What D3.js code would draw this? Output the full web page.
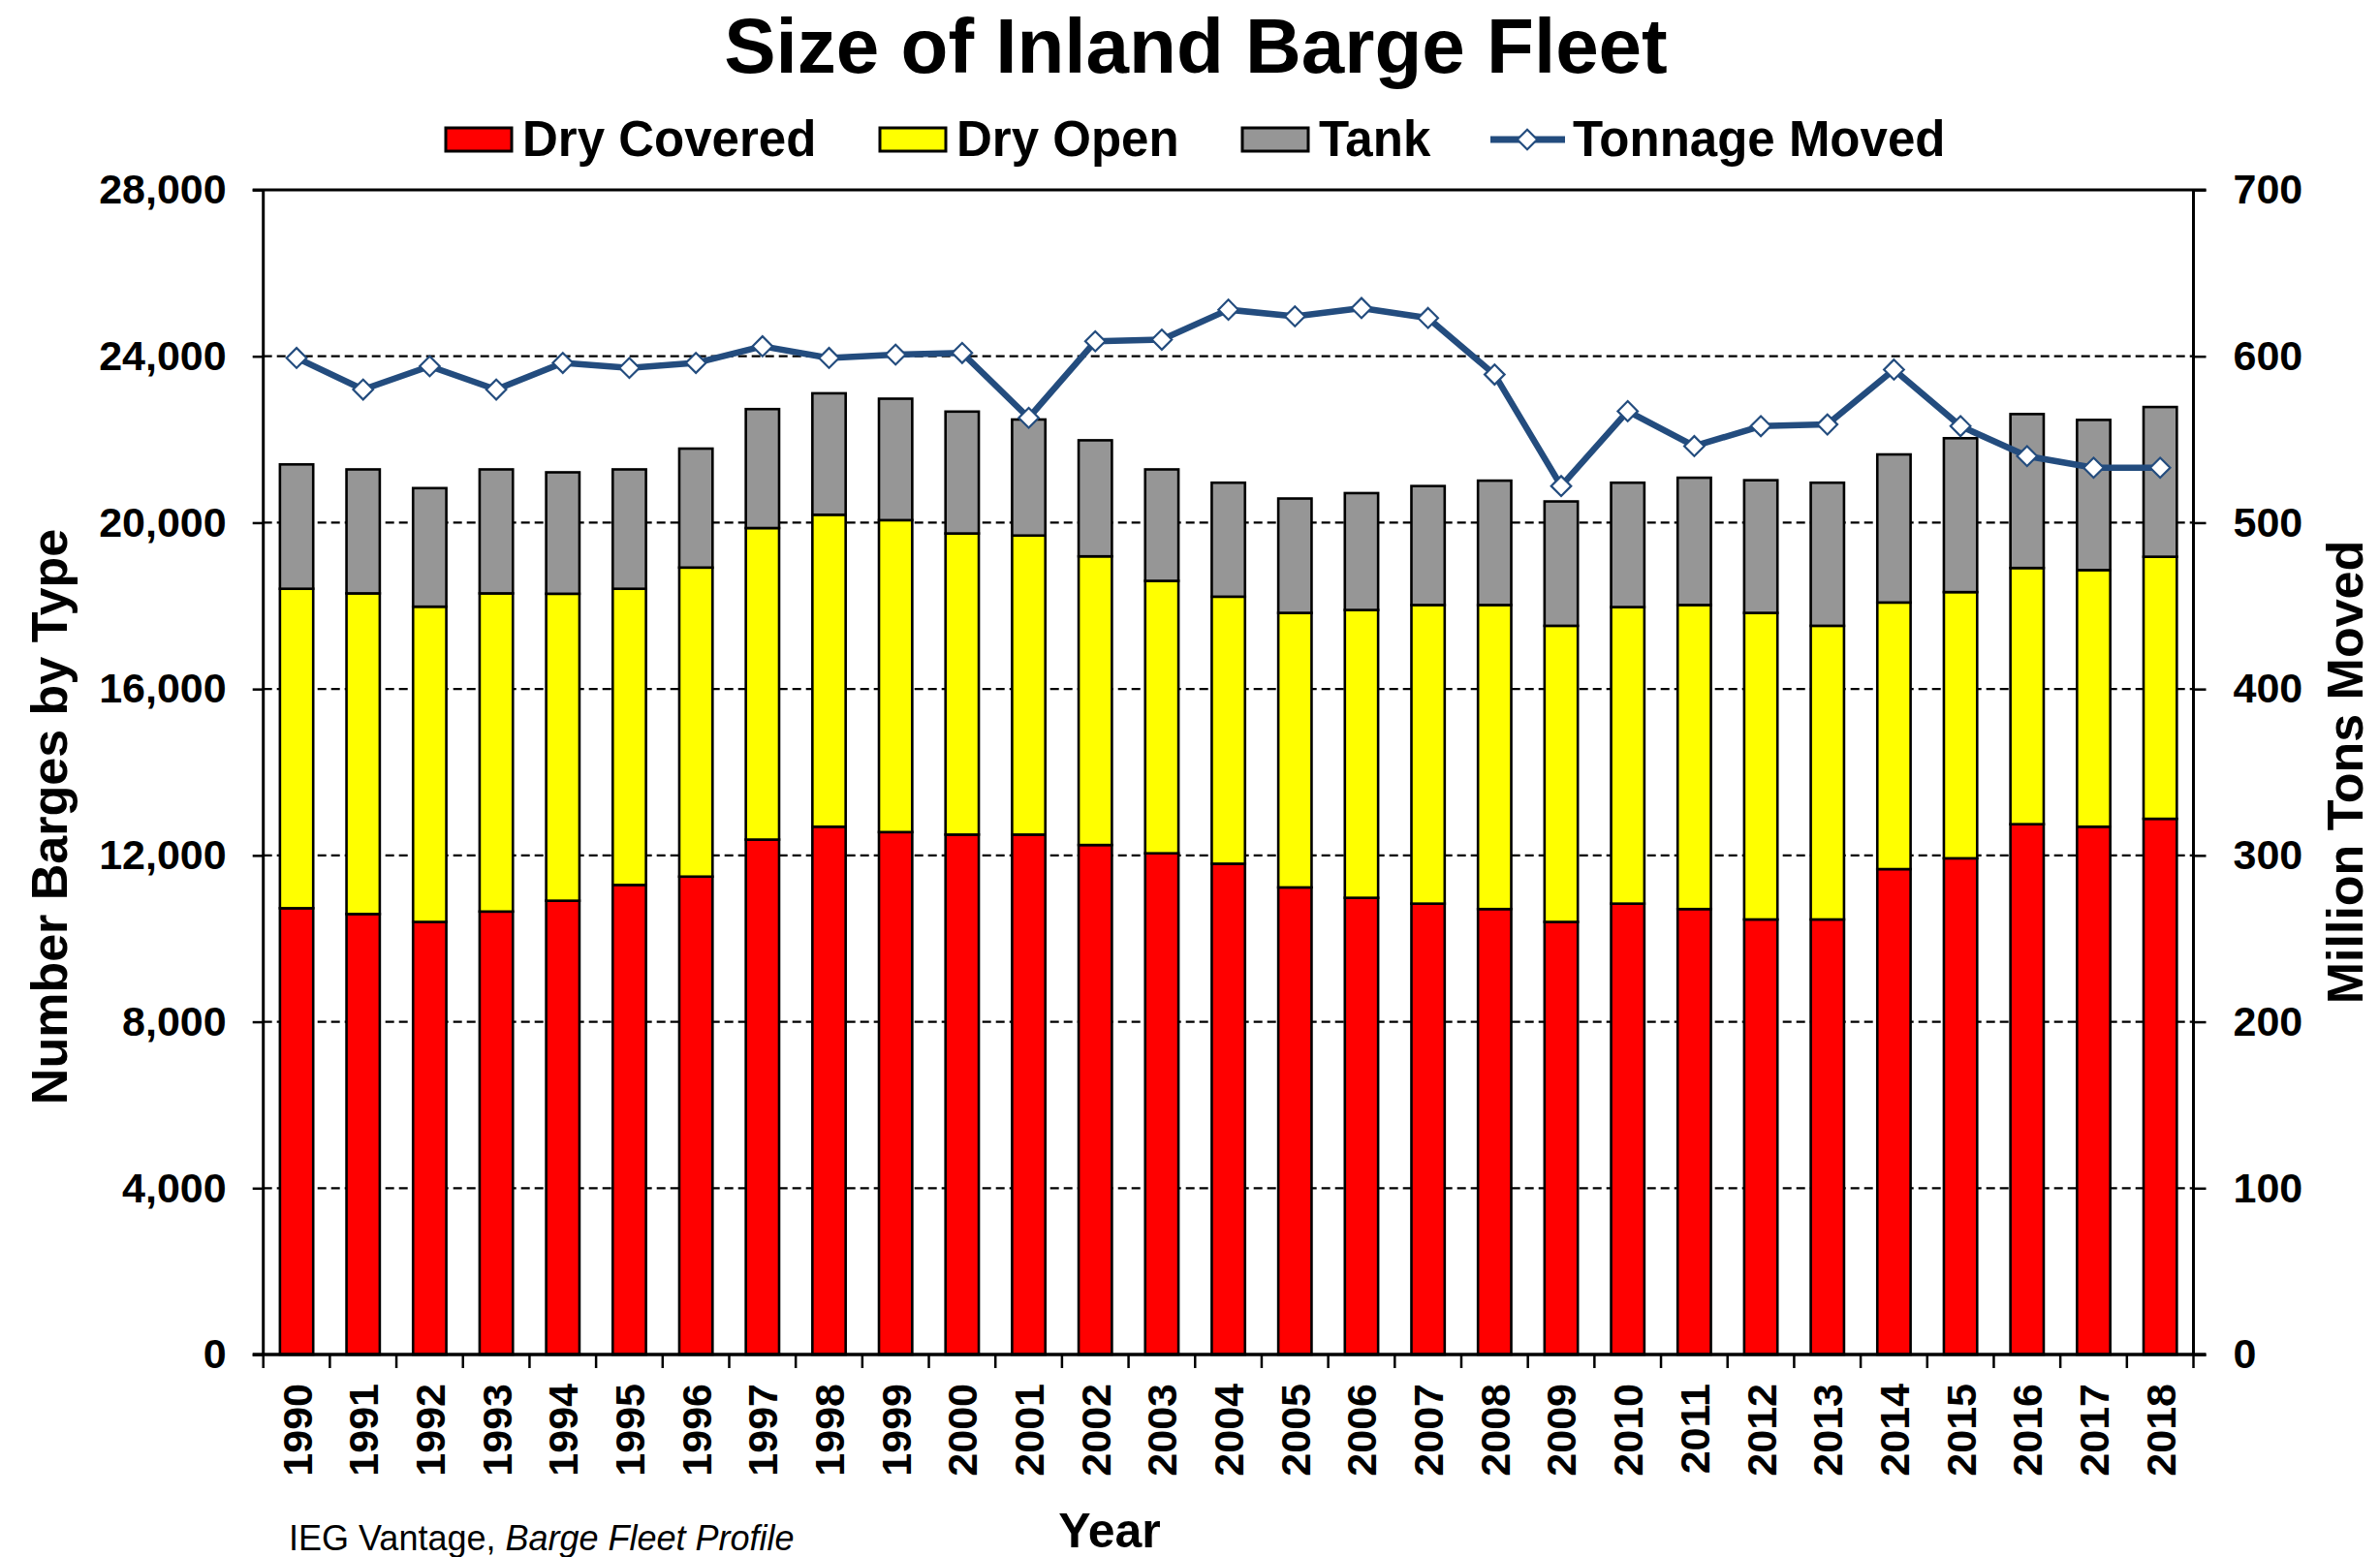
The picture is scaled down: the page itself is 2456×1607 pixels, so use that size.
<!DOCTYPE html>
<html lang="en">
<head>
    <meta charset="UTF-8">
    <title>Size of Inland Barge Fleet</title>
    <script src="https://d3js.org/d3.v7.min.js"></script>
    <style>
        body { margin: 0; background: #fff; }
        svg text { font-family: "Liberation Sans", Arial, sans-serif; fill: #000; }
    </style>
</head>
<body>
<script>
    // values
    var years = d3.range(1990, 2019).map(String);
    var dryCovered = [10730, 10590, 10400, 10650, 10910, 11290, 11490, 12380, 12690, 12560, 12500, 12500, 12250, 12050, 11800,
                      11230, 10980, 10840, 10710, 10400, 10840, 10710, 10460, 10460, 11670, 11930, 12750, 12690, 12880];
    var dryOpen = [7680, 7710, 7580, 7650, 7380, 7120, 7430, 7490, 7500, 7500, 7240, 7190, 6940, 6550, 6420,
                   6600, 6920, 7180, 7310, 7120, 7130, 7310, 7370, 7060, 6410, 6400, 6160, 6170, 6300];
    var tank = [2990, 2980, 2850, 2980, 2920, 2870, 2860, 2860, 2920, 2920, 2930, 2790, 2790, 2680, 2740,
                2750, 2810, 2860, 2990, 2990, 2990, 3060, 3190, 3440, 3560, 3700, 3700, 3610, 3600];
    var tonnage = [599, 580, 594, 580, 596, 593, 596, 606, 599, 601, 602, 563, 609, 610, 628,
                   624, 629, 623, 589, 522, 567, 546, 558, 559, 592, 558, 540, 533, 533];
    var leftTicks = [0, 4000, 8000, 12000, 16000, 20000, 24000, 28000];
    var rightTicks = [0, 100, 200, 300, 400, 500, 600, 700];

    var seriesNames = ["Dry Covered", "Dry Open", "Tank"];
    var seriesColors = ["#ff0000", "#ffff00", "#969696"];
    var lineColor = "#234c7e";

    var width = 2456, height = 1607;
    var margin = {top: 196, right: 192.5, bottom: 209, left: 271.7};
    var plotW = width - margin.left - margin.right;
    var plotH = height - margin.top - margin.bottom;

    var svg = d3.select("body").append("svg")
        .attr("width", width)
        .attr("height", height);

    var g = svg.append("g")
        .attr("transform", "translate(" + margin.left + "," + margin.top + ")");

    var x = d3.scaleBand()
        .domain(years)
        .range([0, plotW])
        .paddingInner(0.5)
        .paddingOuter(0.25);

    var y = d3.scaleLinear().domain([0, 28000]).range([plotH, 0]);
    var y2 = d3.scaleLinear().domain([0, 700]).range([plotH, 0]);

    // table for the stack
    var table = years.map(function(yr, i) {
        return {year: yr, "Dry Covered": dryCovered[i], "Dry Open": dryOpen[i], "Tank": tank[i]};
    });
    var stacked = d3.stack().keys(seriesNames)(table);

    // dashed gridlines
    g.append("g").selectAll("line")
        .data(leftTicks.filter(function(d) { return d > 0 && d < 28000; }))
        .enter().append("line")
        .attr("x1", 0).attr("x2", plotW)
        .attr("y1", function(d) { return y(d); })
        .attr("y2", function(d) { return y(d); })
        .style("stroke", "#000")
        .style("stroke-width", 2.2)
        .style("stroke-dasharray", "9,5");

    // bars
    g.append("g").selectAll("g")
        .data(stacked)
        .enter().append("g")
        .style("fill", function(d, i) { return seriesColors[i]; })
        .selectAll("rect")
        .data(function(d) { return d; })
        .enter().append("rect")
        .attr("x", function(d) { return x(d.data.year); })
        .attr("width", x.bandwidth())
        .attr("y", function(d) { return y(d[1]); })
        .attr("height", function(d) { return y(d[0]) - y(d[1]); })
        .style("stroke", "#000")
        .style("stroke-width", 2.6);

    // frame top line
    g.append("line")
        .attr("x1", -11).attr("x2", plotW + 13)
        .attr("y1", 0).attr("y2", 0)
        .style("stroke", "#000").style("stroke-width", 3);

    // left axis
    var leftAxis = g.append("g")
        .call(d3.axisLeft(y).tickValues(leftTicks).tickSize(11).tickPadding(27)
            .tickFormat(d3.format(",")));
    leftAxis.select(".domain").remove();
    leftAxis.selectAll("line").style("stroke-width", 2.5);
    g.append("line")
        .attr("x1", 0).attr("x2", 0).attr("y1", 0).attr("y2", plotH)
        .style("stroke", "#000").style("stroke-width", 3);

    // right axis
    var rightAxis = g.append("g")
        .attr("transform", "translate(" + plotW + ",0)")
        .call(d3.axisRight(y2).tickValues(rightTicks).tickSize(13).tickPadding(28));
    rightAxis.select(".domain").remove();
    rightAxis.selectAll("line").style("stroke-width", 2.5);
    g.append("line")
        .attr("x1", plotW).attr("x2", plotW).attr("y1", 0).attr("y2", plotH)
        .style("stroke", "#000").style("stroke-width", 3);

    g.selectAll(".tick text")
        .style("font-size", "43px")
        .style("font-weight", "bold");

    // bottom axis
    var bottomAxis = g.append("g")
        .attr("transform", "translate(0," + plotH + ")")
        .call(d3.axisBottom(x).tickSize(0));
    bottomAxis.select(".domain").remove();
    bottomAxis.selectAll("text")
        .attr("transform", "rotate(-90)")
        .attr("x", -30)
        .attr("y", 0)
        .attr("dy", "0.36em")
        .style("text-anchor", "end")
        .style("font-size", "43px")
        .style("font-weight", "bold");

    // category boundary ticks
    bottomAxis.append("g").selectAll("line")
        .data(d3.range(years.length + 1))
        .enter().append("line")
        .attr("x1", function(i) { return i * x.step(); })
        .attr("x2", function(i) { return i * x.step(); })
        .attr("y1", 0).attr("y2", 14)
        .style("stroke", "#000").style("stroke-width", 2.5);

    bottomAxis.append("line")
        .attr("x1", -11).attr("x2", plotW + 13)
        .attr("y1", 0).attr("y2", 0)
        .style("stroke", "#000").style("stroke-width", 3.5);

    // tonnage line
    var line = d3.line()
        .x(function(d, i) { return x(years[i]) + x.bandwidth() / 2; })
        .y(function(d) { return y2(d); });

    g.append("path")
        .datum(tonnage)
        .attr("d", line)
        .style("fill", "none")
        .style("stroke", lineColor)
        .style("stroke-width", 6.5)
        .style("stroke-linejoin", "round");

    var diamond = d3.symbol().type(d3.symbolDiamond2).size(270);

    g.append("g").selectAll("path")
        .data(tonnage)
        .enter().append("path")
        .attr("d", diamond)
        .attr("transform", function(d, i) {
            return "translate(" + (x(years[i]) + x.bandwidth() / 2) + "," + y2(d) + ")";
        })
        .style("fill", "#fff")
        .style("stroke", lineColor)
        .style("stroke-width", 2.2);

    // title
    svg.append("text")
        .attr("x", 1234).attr("y", 75)
        .style("text-anchor", "middle")
        .style("font-size", "80px")
        .style("font-weight", "bold")
        .text("Size of Inland Barge Fleet");

    // legend
    var legend = svg.append("g").style("font-size", "51px").style("font-weight", "bold");
    var swatchX = [460, 908, 1282];
    seriesNames.forEach(function(name, i) {
        legend.append("rect")
            .attr("x", swatchX[i]).attr("y", 132)
            .attr("width", 68).attr("height", 24)
            .style("fill", seriesColors[i])
            .style("stroke", "#000").style("stroke-width", 3);
        legend.append("text")
            .attr("x", swatchX[i] + 79).attr("y", 161)
            .text(name);
    });
    legend.append("line")
        .attr("x1", 1538).attr("x2", 1615)
        .attr("y1", 144).attr("y2", 144)
        .style("stroke", lineColor).style("stroke-width", 7);
    legend.append("path")
        .attr("d", diamond)
        .attr("transform", "translate(1576,144)")
        .style("fill", "#fff")
        .style("stroke", lineColor)
        .style("stroke-width", 2.2);
    legend.append("text")
        .attr("x", 1623).attr("y", 161)
        .text("Tonnage Moved");

    // axis titles
    svg.append("text")
        .attr("transform", "translate(69,843) rotate(-90)")
        .style("text-anchor", "middle")
        .style("font-size", "52px")
        .style("font-weight", "bold")
        .text("Number Barges by Type");

    svg.append("text")
        .attr("transform", "translate(2438,797) rotate(-90)")
        .style("text-anchor", "middle")
        .style("font-size", "52px")
        .style("font-weight", "bold")
        .text("Million Tons Moved");

    svg.append("text")
        .attr("x", 1145).attr("y", 1597)
        .style("text-anchor", "middle")
        .style("font-size", "50px")
        .style("font-weight", "bold")
        .text("Year");

    // source note
    var src = svg.append("text")
        .attr("x", 298).attr("y", 1600)
        .style("font-size", "36px");
    src.append("tspan").text("IEG Vantage, ");
    src.append("tspan").style("font-style", "italic").text("Barge Fleet Profile");
</script>
</body>
</html>
